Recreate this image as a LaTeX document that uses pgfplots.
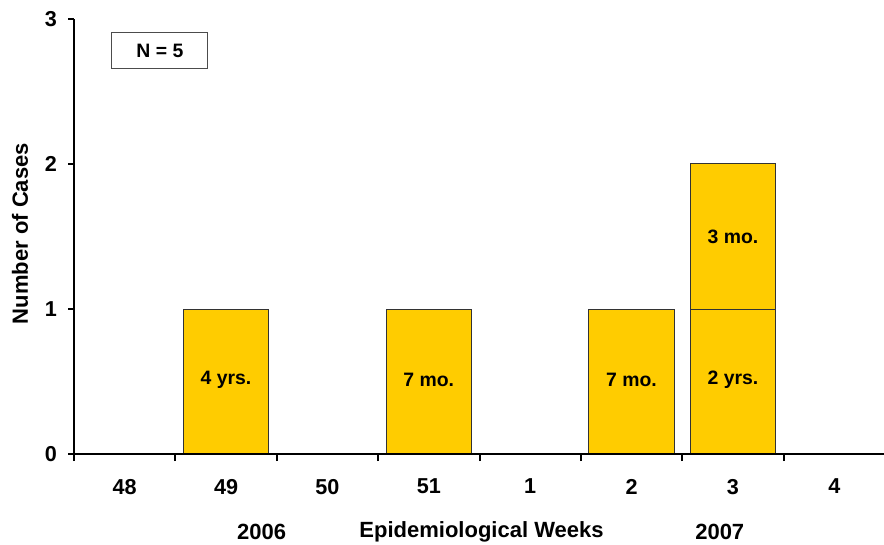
\documentclass[border=0pt]{standalone}
\usepackage{pgfplots}
\pgfplotsset{compat=1.18}
\usepackage{fontspec}
\setmainfont{Liberation Sans}
\definecolor{bargold}{HTML}{FFCC00}
\begin{document}
\begin{tikzpicture}[
 lbl/.style={font=\fontsize{9.7}{11}\selectfont\bfseries},
 ttl/.style={font=\fontsize{11}{13}\selectfont\bfseries}]
\begin{axis}[name=ax, scale only axis, width=405.5pt, height=217.5pt,
 xmin=-0.5, xmax=7.5, ymin=0, ymax=3,
 axis x line=bottom, axis y line=left,
 axis line style={-, line width=1pt, black},
 xtick={0,...,7}, xticklabels={48,49,50,51,1,2,3,4},
 minor xtick={-0.5,0.5,...,6.5},
 ytick={0,1,2,3},
 tick align=outside,
 major x tick style={draw=none},
 minor x tick style={line width=1pt, black},
 major y tick style={line width=1pt, black},
 minor tick length=3.5pt,
 major tick length=3pt,
 axis on top,
 ybar stacked, bar width=0.84,
 clip=false,
 tick label style={font=\fontsize{10.8}{12}\selectfont\bfseries},
 /pgf/number format/assume math mode=true,
 xticklabel style={yshift=-6pt},
 yticklabel style={xshift=-2pt},
]
\addplot[fill=bargold, draw=black!80, line width=0.5pt] coordinates {(0,0) (1,1) (2,0) (3,1) (4,0) (5,1) (6,1) (7,0)};
\addplot[fill=bargold, draw=black!80, line width=0.5pt] coordinates {(0,0) (1,0) (2,0) (3,0) (4,0) (5,0) (6,1) (7,0)};
\coordinate (b1) at (axis cs:1,0.51);
\coordinate (b2) at (axis cs:3,0.51);
\coordinate (b3) at (axis cs:5,0.51);
\coordinate (b4) at (axis cs:6,0.51);
\coordinate (b5) at (axis cs:6,1.5);
\coordinate (nb) at (axis cs:0.347,2.78);
\coordinate (xl) at (axis cs:3.52,-0.535);
\coordinate (y6) at (axis cs:1.35,-0.535);
\coordinate (y7) at (axis cs:5.87,-0.535);
\coordinate (yl) at (axis cs:-0.5,1.52);
\end{axis}
\node[lbl] at (b1) {4 yrs.};
\node[lbl] at (b2) {7 mo.};
\node[lbl] at (b3) {7 mo.};
\node[lbl] at (b4) {2 yrs.};
\node[lbl] at (b5) {3 mo.};
\node[lbl, draw=black!70, line width=0.5pt, minimum width=48pt, minimum height=18pt, inner sep=0pt] at (nb) {N = 5};
\node[ttl] at (xl) {Epidemiological Weeks};
\node[ttl] at (y6) {2006};
\node[ttl] at (y7) {2007};
\node[ttl, rotate=90] at ([xshift=-27pt]yl) {Number of Cases};
\pgfresetboundingbox
\path[use as bounding box] ([xshift=-37pt,yshift=-45pt]ax.south west) rectangle ([xshift=-0.5pt,yshift=9.5pt]ax.north east);
\end{tikzpicture}
\end{document}
